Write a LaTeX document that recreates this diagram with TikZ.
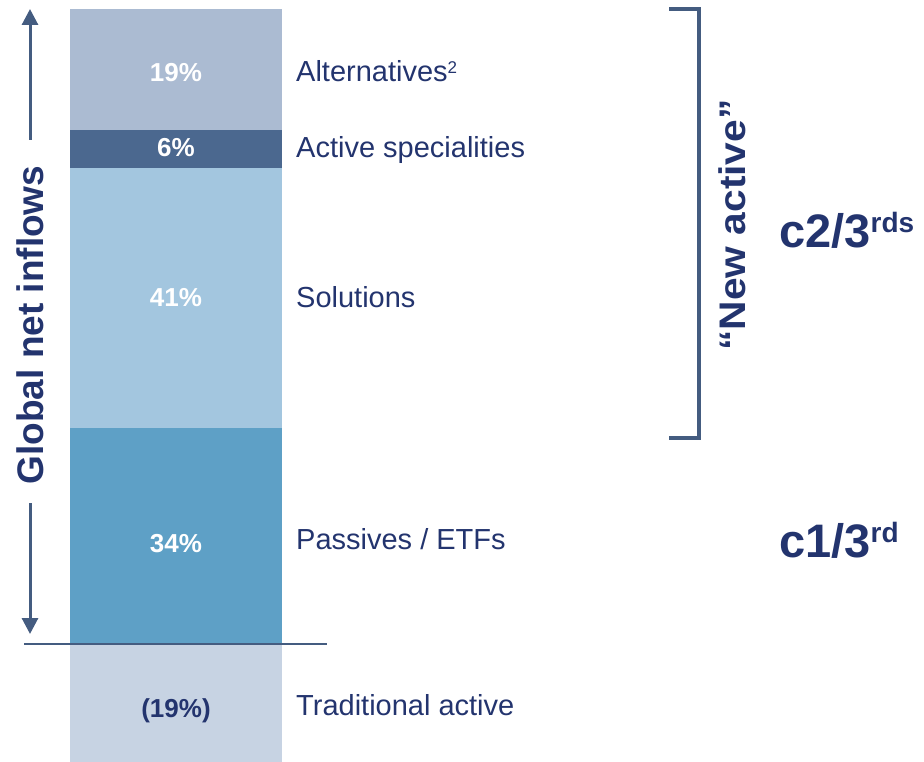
\documentclass[tikz,border=0pt]{standalone}
\usepackage{fontspec}
\setmainfont{Liberation Sans}
\usetikzlibrary{arrows.meta}
\definecolor{navy}{RGB}{35,52,110}
\definecolor{rule}{RGB}{68,92,128}
\definecolor{altcol}{RGB}{171,187,210}
\definecolor{spccol}{RGB}{75,104,143}
\definecolor{solcol}{RGB}{163,198,223}
\definecolor{pascol}{RGB}{94,160,198}
\definecolor{tradcol}{RGB}{199,211,227}
\begin{document}
\begin{tikzpicture}[x=1pt,y=-1pt]
\tikzset{pct/.style={text=white, font=\fontsize{26}{30}\selectfont\bfseries, anchor=base, inner sep=0pt},
lbl/.style={text=navy, font=\fontsize{29}{34}\selectfont, anchor=base west, inner sep=0pt},
big/.style={text=navy, font=\fontsize{47}{50}\selectfont\bfseries, anchor=base west, inner sep=0pt},
side/.style={text=navy, font=\fontsize{37}{40}\selectfont\bfseries, anchor=base, rotate=90, inner sep=0pt},
arr/.style={draw=rule, line width=3pt, -{Triangle[width=16pt,length=16pt]}},
brk/.style={draw=rule, line width=3.5pt, line join=miter}}
\useasboundingbox (0,0) rectangle (924,762);
\fill[altcol] (70,9) rectangle (282,130);
\fill[spccol] (70,130) rectangle (282,168);
\fill[solcol] (70,168) rectangle (282,428);
\fill[pascol] (70,428) rectangle (282,643);
\fill[tradcol] (70,643) rectangle (282,762);
\node[pct] (P1) at (176,82) {19\%};
\node[pct] (P2) at (176,157) {6\%};
\node[pct] (P3) at (176,306) {41\%};
\node[pct] (P4) at (176,552) {34\%};
\node[pct, text=navy] (P5) at (176,717) {(19\%)};
\node[lbl] (L1) at (296,82) {Alternatives\raisebox{8pt}{\fontsize{17}{17}\selectfont 2}};
\node[lbl] (L2) at (296,158) {Active specialities};
\node[lbl] (L3) at (296,307) {Solutions};
\node[lbl] (L4) at (296,549) {Passives / ETFs};
\node[lbl] (L5) at (296,715) {Traditional active};
\coordinate (H1) at (24,644);
\coordinate (H2) at (327,644);
\draw[rule, line width=2.5pt] (H1) -- (H2);
\coordinate (U1) at (30,140);
\coordinate (U2) at (30,9);
\coordinate (D1) at (30,503);
\coordinate (D2) at (30,634);
\draw[arr] (U1) -- (U2);
\draw[arr] (D1) -- (D2);
\node[side] (G) at (43,325) {Global net inflows};
\coordinate (B1) at (669,9);
\coordinate (B2) at (699,9);
\coordinate (B3) at (699,438);
\coordinate (B4) at (669,438);
\draw[brk] (B1) -- (B2) -- (B3) -- (B4);
\node[side] (N) at (745,225) {\scalebox{1.1}[1]{“New active”}};
\node[big] (C1) at (779,248) {c2/3\raisebox{16pt}{\fontsize{28}{28}\selectfont rds}};
\node[big] (C2) at (779,557) {c1/3\raisebox{15pt}{\fontsize{28}{28}\selectfont rd}};
\end{tikzpicture}
\end{document}
